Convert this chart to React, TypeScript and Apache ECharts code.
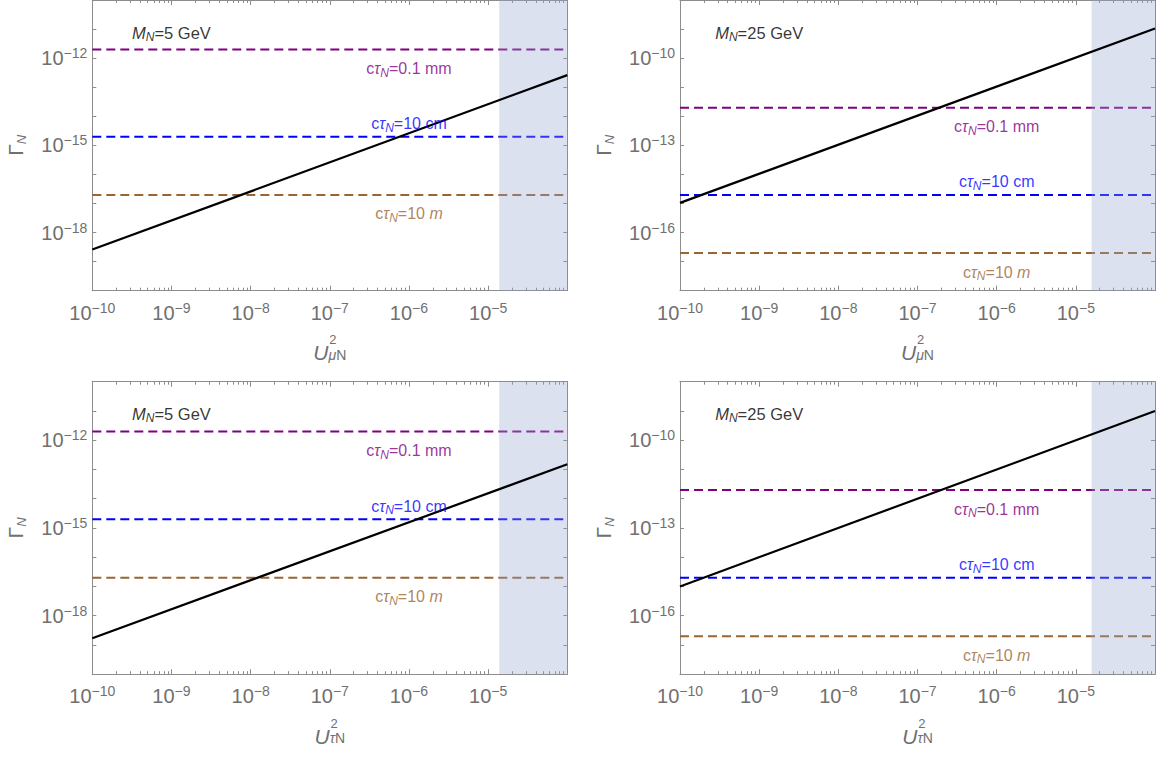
import React, { useEffect, useRef } from "react";
import * as echarts from "echarts";

// ---------------- data ----------------
const U2_RANGE = [1e-10, 1e-4];
const X_TICK_VALUES = [1e-10, 1e-9, 1e-8, 1e-7, 1e-6, 1e-5];
const Y_RANGE_5GEV = [1e-20, 1e-10];
const Y_RANGE_25GEV = [1e-18, 1e-8];
const Y_TICK_VALUES_5GEV = [1e-18, 1e-15, 1e-12];
const Y_TICK_VALUES_25GEV = [1e-16, 1e-13, 1e-10];

const PANEL_MASS_GEV = [5, 25, 5, 25];
const PANEL_FLAVOUR = ["μ", "μ", "τ", "τ"];
// decay width Γ_N at the two ends of the U² range
const GAMMA_AT_U2_MIN = [2.6e-19, 1.05e-15, 1.7e-19, 1.0e-15];
const GAMMA_AT_U2_MAX = [2.6e-13, 1.05e-9, 1.5e-13, 1.0e-9];
// start of the shaded (excluded) region
const EXCLUDED_U2_FROM = [1.38e-5, 1.58e-5, 1.38e-5, 1.58e-5];

const LIFETIME_LABELS = ["0.1 mm", "10 cm", "10 m"];
const LIFETIME_GAMMA = [1.97e-12, 1.97e-15, 1.97e-17];
const LIFETIME_LABEL_U2 = 1e-6;
const MASS_LABEL_U2 = 1e-9;
const MASS_LABEL_GAMMA = [7.6e-12, 7.6e-10, 7.6e-12, 7.6e-10];

// ---------------- styles / layout ----------------
const LIFETIME_COLORS = ["#800080", "#0000ff", "#996633"];
const LIFETIME_LABEL_OFFSET = [19, -13, 19];
const FONT = "'Liberation Sans', Arial, Helvetica, sans-serif";
const AXIS_COLOR = "#8c8c8c";
const TEXT_GREY = "#707070";
const SHADE_COLOR = "rgb(150,165,205)";
const GRID_LEFT = [92.3, 680, 92.3, 680];
const GRID_TOP = [-1.8, -1.8, 381.7, 381.7];
const GRID_W = 475;
const GRID_H = 292.5;

const lg = (v: number) => Math.log10(v);

const powRich = {
  b: { fontSize: 20, lineHeight: 24, color: TEXT_GREY, fontFamily: FONT },
  e: { fontSize: 14, lineHeight: 14, verticalAlign: "top", color: TEXT_GREY, fontFamily: FONT },
};
const powFormatter = (v: number) => `{b|10}{e|−${Math.round(-v)}}`;

function lifetimeRich(color: string) {
  return {
    c: { fontSize: 16, lineHeight: 20, color, fontFamily: FONT },
    t: { fontSize: 16, lineHeight: 20, color, fontStyle: "italic", fontFamily: FONT },
    s: { fontSize: 12, lineHeight: 11, color, fontStyle: "italic", verticalAlign: "bottom", fontFamily: FONT },
    i: { fontSize: 16, lineHeight: 20, color, fontStyle: "italic", fontFamily: FONT },
  };
}

function lifetimeText(label: string) {
  const parts = label.split(" ");
  const unit = parts[1];
  const unitPart = unit === "m" ? `{c|=${parts[0]} }{i|m}` : `{c|=${label}}`;
  return `{c|c}{t|τ}{s|N}${unitPart}`;
}

function buildOption() {
  const grid: any[] = [];
  const xAxis: any[] = [];
  const yAxis: any[] = [];
  const series: any[] = [];

  const xMin = Math.round(lg(U2_RANGE[0]));
  const xMax = Math.round(lg(U2_RANGE[1]));
  const minorTicks: number[] = [];
  for (let n = xMin; n < xMax; n++) {
    for (let k = 2; k <= 9; k++) minorTicks.push(n + lg(k));
  }

  for (let i = 0; i < 4; i++) {
    grid.push({ left: GRID_LEFT[i], top: GRID_TOP[i], width: GRID_W, height: GRID_H, show: false });
    const is5 = PANEL_MASS_GEV[i] === 5;
    const yr = is5 ? Y_RANGE_5GEV : Y_RANGE_25GEV;
    const yTicks = is5 ? Y_TICK_VALUES_5GEV : Y_TICK_VALUES_25GEV;
    const yMin = Math.round(lg(yr[0]));
    const yMax = Math.round(lg(yr[1]));
    const flav = PANEL_FLAVOUR[i];

    const lineStyle = { color: AXIS_COLOR, width: 1 };
    const baseX = { gridIndex: i, type: "value", min: xMin, max: xMax, interval: 1, splitLine: { show: false } };

    // bottom major (with the stacked U^2_{fN} title)
    xAxis.push({
      ...baseX,
      position: "bottom",
      axisLine: { show: true, onZero: false, lineStyle },
      axisTick: { show: true, inside: true, length: 5, lineStyle },
      axisLabel: {
        show: true,
        customValues: X_TICK_VALUES.map(lg),
        margin: 10,
        formatter: powFormatter,
        rich: powRich,
      },
      name: `{sp| }{p|2}\n{u|U}{f|${flav}}{s|N}`,
      nameLocation: "middle",
      nameGap: 45,
      nameTextStyle: {
        rich: {
          sp: { width: 16, fontSize: 13, lineHeight: 8, align: "left", color: TEXT_GREY, fontFamily: FONT },
          p: { fontSize: 13, lineHeight: 8, align: "left", color: TEXT_GREY, fontFamily: FONT },
          u: { fontSize: 21, lineHeight: 18, align: "left", fontStyle: "italic", color: TEXT_GREY, fontFamily: FONT },
          f: { fontSize: 14, lineHeight: 8, align: "left", fontStyle: "italic", verticalAlign: "bottom", color: TEXT_GREY, fontFamily: FONT },
          s: { fontSize: 14, lineHeight: 8, align: "left", verticalAlign: "bottom", color: TEXT_GREY, fontFamily: FONT },
        },
      },
    });
    // bottom minor
    xAxis.push({
      ...baseX,
      position: "bottom",
      axisLine: { show: false, onZero: false },
      axisTick: { show: true, inside: true, length: 3, customValues: minorTicks, lineStyle },
      axisLabel: { show: false },
    });
    // top major
    xAxis.push({
      ...baseX,
      position: "top",
      axisLine: { show: true, onZero: false, lineStyle },
      axisTick: { show: true, inside: true, length: 5, lineStyle },
      axisLabel: { show: false },
    });
    // top minor
    xAxis.push({
      ...baseX,
      position: "top",
      axisLine: { show: false, onZero: false },
      axisTick: { show: true, inside: true, length: 3, customValues: minorTicks, lineStyle },
      axisLabel: { show: false },
    });

    const baseY = { gridIndex: i, type: "value", min: yMin, max: yMax, interval: 1, splitLine: { show: false } };
    yAxis.push({
      ...baseY,
      position: "left",
      axisLine: { show: true, onZero: false, lineStyle },
      axisTick: { show: true, inside: true, length: 4, lineStyle },
      axisLabel: {
        show: true,
        customValues: yTicks.map(lg),
        margin: 5,
        formatter: powFormatter,
        rich: powRich,
      },
      name: "{g|Γ}{n|N}",
      nameLocation: "middle",
      nameGap: 64,
      nameTextStyle: {
        rich: {
          g: { fontSize: 21, lineHeight: 26, color: TEXT_GREY, fontFamily: FONT },
          n: { fontSize: 13, lineHeight: 12, fontStyle: "italic", verticalAlign: "bottom", color: TEXT_GREY, fontFamily: FONT },
        },
      },
    });
    yAxis.push({
      ...baseY,
      position: "right",
      axisLine: { show: true, onZero: false, lineStyle },
      axisTick: { show: true, inside: true, length: 4, lineStyle },
      axisLabel: { show: false },
    });

    const xi = 4 * i;
    const yi = 2 * i;

    // lifetime reference lines
    LIFETIME_GAMMA.forEach((g, j) => {
      series.push({
        type: "line",
        xAxisIndex: xi,
        yAxisIndex: yi,
        data: [
          [lg(U2_RANGE[0]), lg(g)],
          [lg(U2_RANGE[1]), lg(g)],
        ],
        symbol: "none",
        silent: true,
        z: 1,
        lineStyle: { color: LIFETIME_COLORS[j], width: 2, type: [9, 5] },
      });
    });

    // excluded region shading
    series.push({
      type: "line",
      xAxisIndex: xi,
      yAxisIndex: yi,
      data: [
        [lg(EXCLUDED_U2_FROM[i]), yMax],
        [lg(U2_RANGE[1]), yMax],
      ],
      symbol: "none",
      silent: true,
      z: 2,
      lineStyle: { width: 0, opacity: 0 },
      areaStyle: { color: SHADE_COLOR, opacity: 0.33, origin: "start" },
    });

    // decay width line
    series.push({
      type: "line",
      xAxisIndex: xi,
      yAxisIndex: yi,
      data: [
        [lg(U2_RANGE[0]), lg(GAMMA_AT_U2_MIN[i])],
        [lg(U2_RANGE[1]), lg(GAMMA_AT_U2_MAX[i])],
      ],
      symbol: "none",
      silent: true,
      z: 3,
      lineStyle: { color: "#000000", width: 2.2 },
    });

    // lifetime labels
    LIFETIME_GAMMA.forEach((g, j) => {
      series.push({
        type: "scatter",
        xAxisIndex: xi,
        yAxisIndex: yi,
        data: [[lg(LIFETIME_LABEL_U2), lg(g)]],
        symbolSize: 0,
        silent: true,
        z: 4,
        label: {
          show: true,
          position: "inside",
          offset: [0, LIFETIME_LABEL_OFFSET[j]],
          formatter: lifetimeText(LIFETIME_LABELS[j]),
          rich: lifetimeRich(LIFETIME_COLORS[j]),
        },
      });
    });

    // mass label
    series.push({
      type: "scatter",
      xAxisIndex: xi,
      yAxisIndex: yi,
      data: [[lg(MASS_LABEL_U2), lg(MASS_LABEL_GAMMA[i])]],
      symbolSize: 0,
      silent: true,
      z: 4,
      label: {
        show: true,
        position: "inside",
        formatter: `{m|M}{s|N}{r|=${PANEL_MASS_GEV[i]} GeV}`,
        rich: {
          m: { fontSize: 16.5, lineHeight: 20, fontStyle: "italic", color: "#000", fontFamily: FONT },
          s: { fontSize: 12, lineHeight: 11, fontStyle: "italic", verticalAlign: "bottom", color: "#000", fontFamily: FONT },
          r: { fontSize: 16.5, lineHeight: 20, color: "#000", fontFamily: FONT },
        },
      },
    });
  }

  return {
    animation: false,
    backgroundColor: "#ffffff",
    textStyle: { fontFamily: FONT },
    grid,
    xAxis,
    yAxis,
    series,
  };
}

export default function App() {
  const ref = useRef<HTMLDivElement>(null);
  useEffect(() => {
    if (!ref.current) return;
    const chart = echarts.init(ref.current, undefined, { renderer: "svg" });
    chart.setOption(buildOption() as any);
    return () => {
      chart.dispose();
    };
  }, []);
  return (
    <div
      ref={ref}
      style={{ position: "absolute", left: 0, top: 0, width: 1156, height: 757 }}
    />
  );
}
